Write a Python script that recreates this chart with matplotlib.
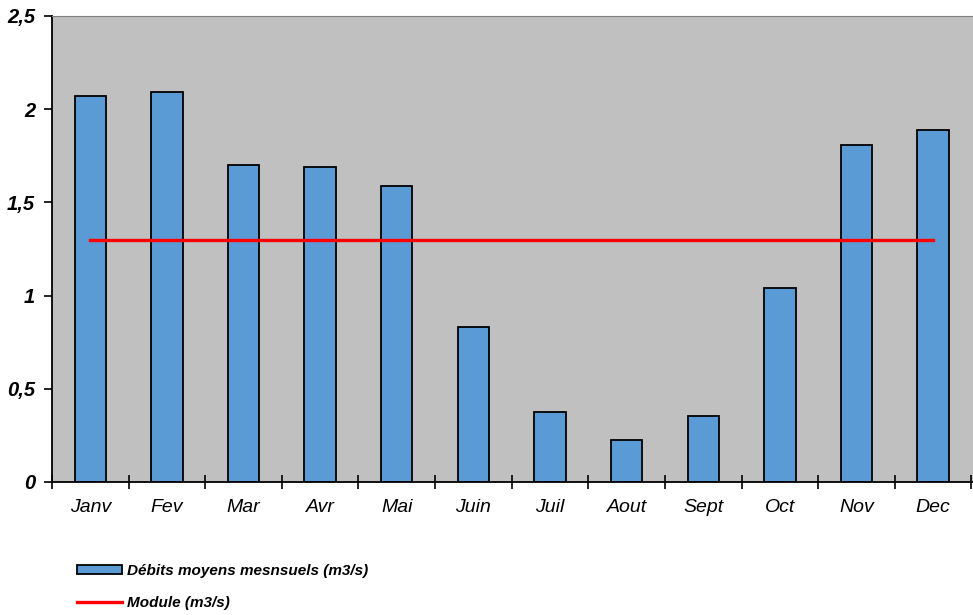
import matplotlib.pyplot as plt
from matplotlib.patches import Patch
from matplotlib.lines import Line2D
from matplotlib.ticker import FuncFormatter, FixedLocator

plt.rcParams['font.family'] = ['Liberation Sans', 'DejaVu Sans']

# Débits moyens mensuels
mois = ['Janv', 'Fev', 'Mar', 'Avr', 'Mai', 'Juin', 'Juil', 'Aout', 'Sept', 'Oct', 'Nov', 'Dec']
debits = [2.07, 2.09, 1.70, 1.69, 1.59, 0.83, 0.375, 0.225, 0.355, 1.04, 1.81, 1.89]
module = 1.30

fig = plt.figure(figsize=(9.73, 6.15), dpi=100)
ax = fig.add_axes([0.0534, 0.2163, 0.9466, 0.7577])
ax.set_facecolor('#c0c0c0')

x = range(len(mois))
ax.bar(x, debits, width=0.41, color='#5b9bd5', edgecolor='black', linewidth=1.3, zorder=2)
ax.plot([0, len(mois) - 1], [module, module], color='#ff0000', linewidth=2.4, zorder=3)

ax.set_xlim(-0.5, 11.52)
ax.set_ylim(0, 2.5)
ax.set_yticks([0, 0.5, 1, 1.5, 2, 2.5])
ax.yaxis.set_major_formatter(FuncFormatter(lambda v, p: ('%g' % v).replace('.', ',')))
for lab in ax.get_yticklabels():
    lab.set_fontweight('bold')
    lab.set_fontstyle('italic')
    lab.set_fontsize(14.5)
ax.tick_params(axis='y', direction='out', length=6, width=1.2, pad=6)

ax.set_xticks(list(x))
ax.set_xticklabels(mois, fontstyle='italic', fontsize=14)
ax.tick_params(axis='x', length=0, pad=12)
ax.xaxis.set_minor_locator(FixedLocator([i + 0.5 for i in range(-1, 12)]))
ax.tick_params(axis='x', which='minor', direction='inout', length=10, width=1.2)

ax.spines['left'].set_linewidth(1.3)
ax.spines['bottom'].set_linewidth(1.3)
ax.spines['top'].set_color('#808080')
ax.spines['right'].set_visible(False)

handles = [Patch(facecolor='#5b9bd5', edgecolor='black', linewidth=1.3),
           Line2D([0], [0], color='#ff0000', linewidth=2.4)]
labels = ['Débits moyens mesnsuels (m3/s)', 'Module (m3/s)']
fig.legend(handles, labels, loc='upper left', bbox_to_anchor=(0.065, 0.105),
           frameon=False, prop={'weight': 'bold', 'style': 'italic', 'size': 11},
           handlelength=2.95, handleheight=0.5, handletextpad=0.3, labelspacing=1.15)

plt.savefig('out.png')
